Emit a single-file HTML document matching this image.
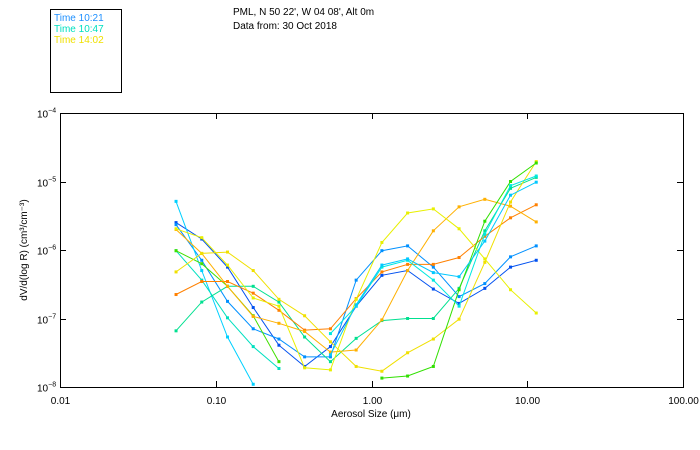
<!DOCTYPE html>
<html><head><meta charset="utf-8"><style>
body{margin:0;background:#fff;}
svg{display:block;font-family:"Liberation Sans",sans-serif;}
</style></head><body>
<svg id="chart" width="700" height="450" viewBox="0 0 700 450">
<rect x="0" y="0" width="700" height="450" fill="#fff"/>
<g>
<rect x="50.5" y="9.5" width="71" height="83" fill="none" stroke="#000"/>
<text x="54" y="21" font-size="10" fill="#1e90ff">Time 10:21</text>
<text x="54" y="32" font-size="10" fill="#00e0c0">Time 10:47</text>
<text x="54" y="43" font-size="10" fill="#f0e000">Time 14:02</text>
</g>
<text x="233" y="15" font-size="10" fill="#000">PML, N 50 22', W 04 08', Alt 0m</text>
<text x="233" y="29" font-size="10" fill="#000">Data from: 30 Oct 2018</text>
<rect x="60.5" y="113.5" width="623" height="274" fill="none" stroke="#000"/>
<g id="axes"></g>
<g id="series"></g>
<text x="371" y="417" font-size="10" text-anchor="middle">Aerosol Size (μm)</text>
<text transform="translate(27,250) rotate(-90)" font-size="10" text-anchor="middle">dV/d(log R) (cm³/cm⁻³)</text>
</svg>
<script>
const sizes=[0.0556,0.0813,0.119,0.174,0.2545,0.372,0.545,0.797,1.166,1.705,2.495,3.65,5.34,7.81,11.42];
const xTicks=[0.01,0.1,1,10,100];
const xTickLabels=["0.01","0.10","1.00","10.00","100.00"];
const yTickExps=[-4,-5,-6,-7,-8];
const N=null;
const sA=[-5.60,-5.84,-6.25,-6.84,-7.39,-7.70,-7.41,-6.82,-6.37,-6.30,-6.57,-6.78,-6.56,-6.25,-6.15];
const sB=[-5.63,-6.15,-6.75,-7.15,-7.30,-7.56,-7.56,-6.44,-6.01,-5.94,-6.25,-6.68,-6.49,-6.10,-5.94];
const sC=[-5.29,-6.30,-7.27,-7.96,N,N,N,N,N,N,N,N,N,N,N];
const sD=[-6.01,-6.44,-6.99,-7.41,-7.73,N,N,N,N,N,N,N,N,N,N];
const sE=[-6.01,-6.20,-6.53,-6.96,-7.63,N,N,N,N,N,N,N,N,N,N];
const sF=[-7.18,-6.76,-6.53,-6.53,-6.76,-7.27,-7.63,-7.29,-7.03,-7.00,-7.00,-6.56,-5.72,-5.10,-4.94];
const sG=[-6.65,-6.46,-6.46,-6.63,-6.88,-7.17,-7.15,-6.71,-6.32,-6.21,-6.21,-6.11,-5.80,-5.53,-5.34];
const sH=[-5.70,-6.05,-6.53,-6.97,-7.07,-7.19,-7.49,-7.46,-7.02,-6.30,-5.72,-5.37,-5.26,-5.36,-5.59];
const sI=[-6.32,-6.05,-6.03,-6.30,-6.72,-6.96,-7.34,-7.70,-7.77,-7.50,-7.30,-7.01,-6.18,-5.30,-4.71];
const sJ=[-5.69,-5.82,-6.22,-6.70,-6.82,-7.72,-7.75,-6.72,-5.89,-5.46,-5.40,-5.69,-6.13,-6.58,-6.92];
const sK=[N,N,N,N,N,N,N,N,-7.87,-7.84,-7.70,-6.58,-5.58,-5.00,-4.73];
const sL=[N,N,N,N,N,N,-7.22,-6.82,-6.25,-6.15,-6.44,-6.82,-5.77,-5.06,-4.92];
const sM=[N,N,N,N,N,N,-7.53,-6.80,-6.22,-6.13,-6.33,-6.39,-5.87,-5.20,-5.01];
const seriesList=[sA,sB,sC,sD,sE,sF,sG,sH,sI,sJ,sK,sL,sM];
const seriesNames=["a","b","c","d","e","f","g","h","i","j","k","l","m"];
const colors=["#0050f0","#0090ff","#00d0ff","#00e0c0","#40e000","#00e090","#ff8000","#ffb000","#f0e000","#e8f000","#30e000","#00e8e0","#00c8ff"];

const X0=60,X1=683,Y0=113,Y1=387;
function xs(v){return X0+(Math.log10(v)+2)/4*(X1-X0);}
function ys(e){return Y0+(-4-e)/4*(Y1-Y0);}
const NS="http://www.w3.org/2000/svg";
function mk(t,a,p){const el=document.createElementNS(NS,t);for(const k in a)el.setAttribute(k,a[k]);p.appendChild(el);return el;}
const axes=document.getElementById('axes');
xTicks.forEach((t,i)=>{
 const x=Math.round(xs(t))+0.5;
 const tk=mk('path',{d:`M${x} ${Y1}V${Y1-6}M${x} ${Y0}V${Y0+6}`,stroke:'#000',fill:'none'},axes);
 
 
 const lb=mk('text',{x:x,y:Y1+17,'font-size':10,'text-anchor':'middle'},axes);
 lb.textContent=xTickLabels[i];
 
 
});
yTickExps.forEach(e=>{
 const y=Math.round(ys(e))+0.5;
 const tk=mk('path',{d:`M${X0} ${y}H${X0+6}M${X1} ${y}H${X1-6}`,stroke:'#000',fill:'none'},axes);
 
 
 const lb=mk('text',{x:37,y:y+4,'font-size':10},axes);
 lb.textContent='10';
 const sp=mk('tspan',{dy:-5,'font-size':7},lb);
 sp.textContent=String(e).replace('-','−');
 
 
});
const sg=document.getElementById('series');
seriesList.forEach((s,si)=>{
 const g=mk('g',{},sg);
 
 
 let d='',pen=false;
 s.forEach((v,i)=>{
  if(v===null){pen=false;return;}
  d+=(pen?'L':'M')+xs(sizes[i]).toFixed(1)+' '+ys(v).toFixed(1);pen=true;
 });
 const ln=mk('path',{d:d,stroke:colors[si],fill:'none','stroke-width':1},g);
 
 
 s.forEach((v,i)=>{
  if(v===null)return;
  const r=mk('rect',{x:xs(sizes[i])-1.5,y:ys(v)-1.5,width:3,height:3,fill:colors[si]},g);
  
  
 });
});
</script>
</body></html>
